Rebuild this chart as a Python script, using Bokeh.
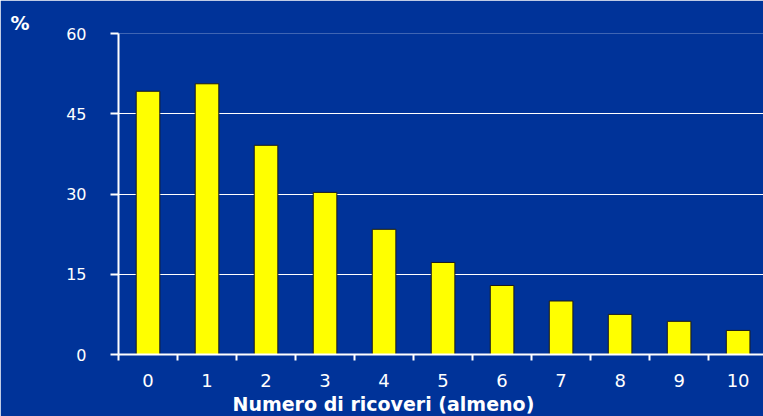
from bokeh.plotting import figure
from bokeh.models import Range1d, FixedTicker, Title, ColumnDataSource
from bokeh.embed import file_html
from bokeh.resources import INLINE

# Share of patients (%) by minimum number of hospital admissions
categories = ["0", "1", "2", "3", "4", "5", "6", "7", "8", "9", "10"]
percent = [49.2, 50.6, 39.1, 30.3, 23.4, 17.2, 12.9, 10.0, 7.5, 6.2, 4.5]
y_ticks = [0, 15, 30, 45, 60]

BG = "#003399"
FONT = "DejaVu Sans"

positions = list(range(len(categories)))
src = ColumnDataSource(dict(x=positions, top=percent))

p = figure(width=763, height=416, output_backend="svg", toolbar_location=None,
           x_range=Range1d(-0.5, 10.43), y_range=Range1d(0, 60),
           min_border_left=118, min_border_right=0, min_border_top=33,
           min_border_bottom=62)
p.background_fill_color = BG
p.border_fill_color = BG
p.outline_line_color = None

p.vbar(x="x", top="top", width=0.4, source=src, fill_color="#FFFF00",
       line_color="#1a1a1a", line_width=1)

# x axis: labels at category centres, tick marks at category boundaries
xa = p.xaxis[0]
xa.ticker = FixedTicker(ticks=positions,
                        minor_ticks=[i - 0.5 for i in range(len(categories) + 1)])
xa.major_label_overrides = {i: c for i, c in enumerate(categories)}
xa.major_tick_line_color = None
xa.minor_tick_line_color = "white"
xa.minor_tick_in = 0
xa.minor_tick_out = 6
xa.minor_tick_line_width = 2
xa.axis_line_color = "white"
xa.axis_line_width = 2
xa.major_label_text_color = "white"
xa.major_label_text_font = FONT
xa.major_label_text_font_size = "18px"
xa.major_label_standoff = 13

ya = p.yaxis[0]
ya.ticker = FixedTicker(ticks=y_ticks)
ya.major_tick_in = 0
ya.major_tick_out = 8
ya.major_tick_line_color = "white"
ya.major_tick_line_width = 2
ya.minor_tick_line_color = None
ya.axis_line_color = "white"
ya.axis_line_width = 2
ya.major_label_text_color = "white"
ya.major_label_text_font = FONT
ya.major_label_text_font_size = "16px"
ya.major_label_standoff = 24

p.xgrid.grid_line_color = None
p.ygrid.ticker = FixedTicker(ticks=y_ticks)
p.ygrid.grid_line_color = "white"
p.ygrid.grid_line_width = 1

# unit marker above the y axis and the category title under the x axis
p.add_layout(Title(text="%", align="left", offset=-108, text_color="white",
                   text_font=FONT, text_font_style="bold",
                   text_font_size="19px", standoff=0), "above")
p.add_layout(Title(text="Numero di ricoveri (almeno)", align="left",
                   offset=114, text_color="white", text_font=FONT,
                   text_font_style="bold", text_font_size="19px",
                   standoff=3), "below")

open("out.html", "w").write(file_html(p, INLINE))
